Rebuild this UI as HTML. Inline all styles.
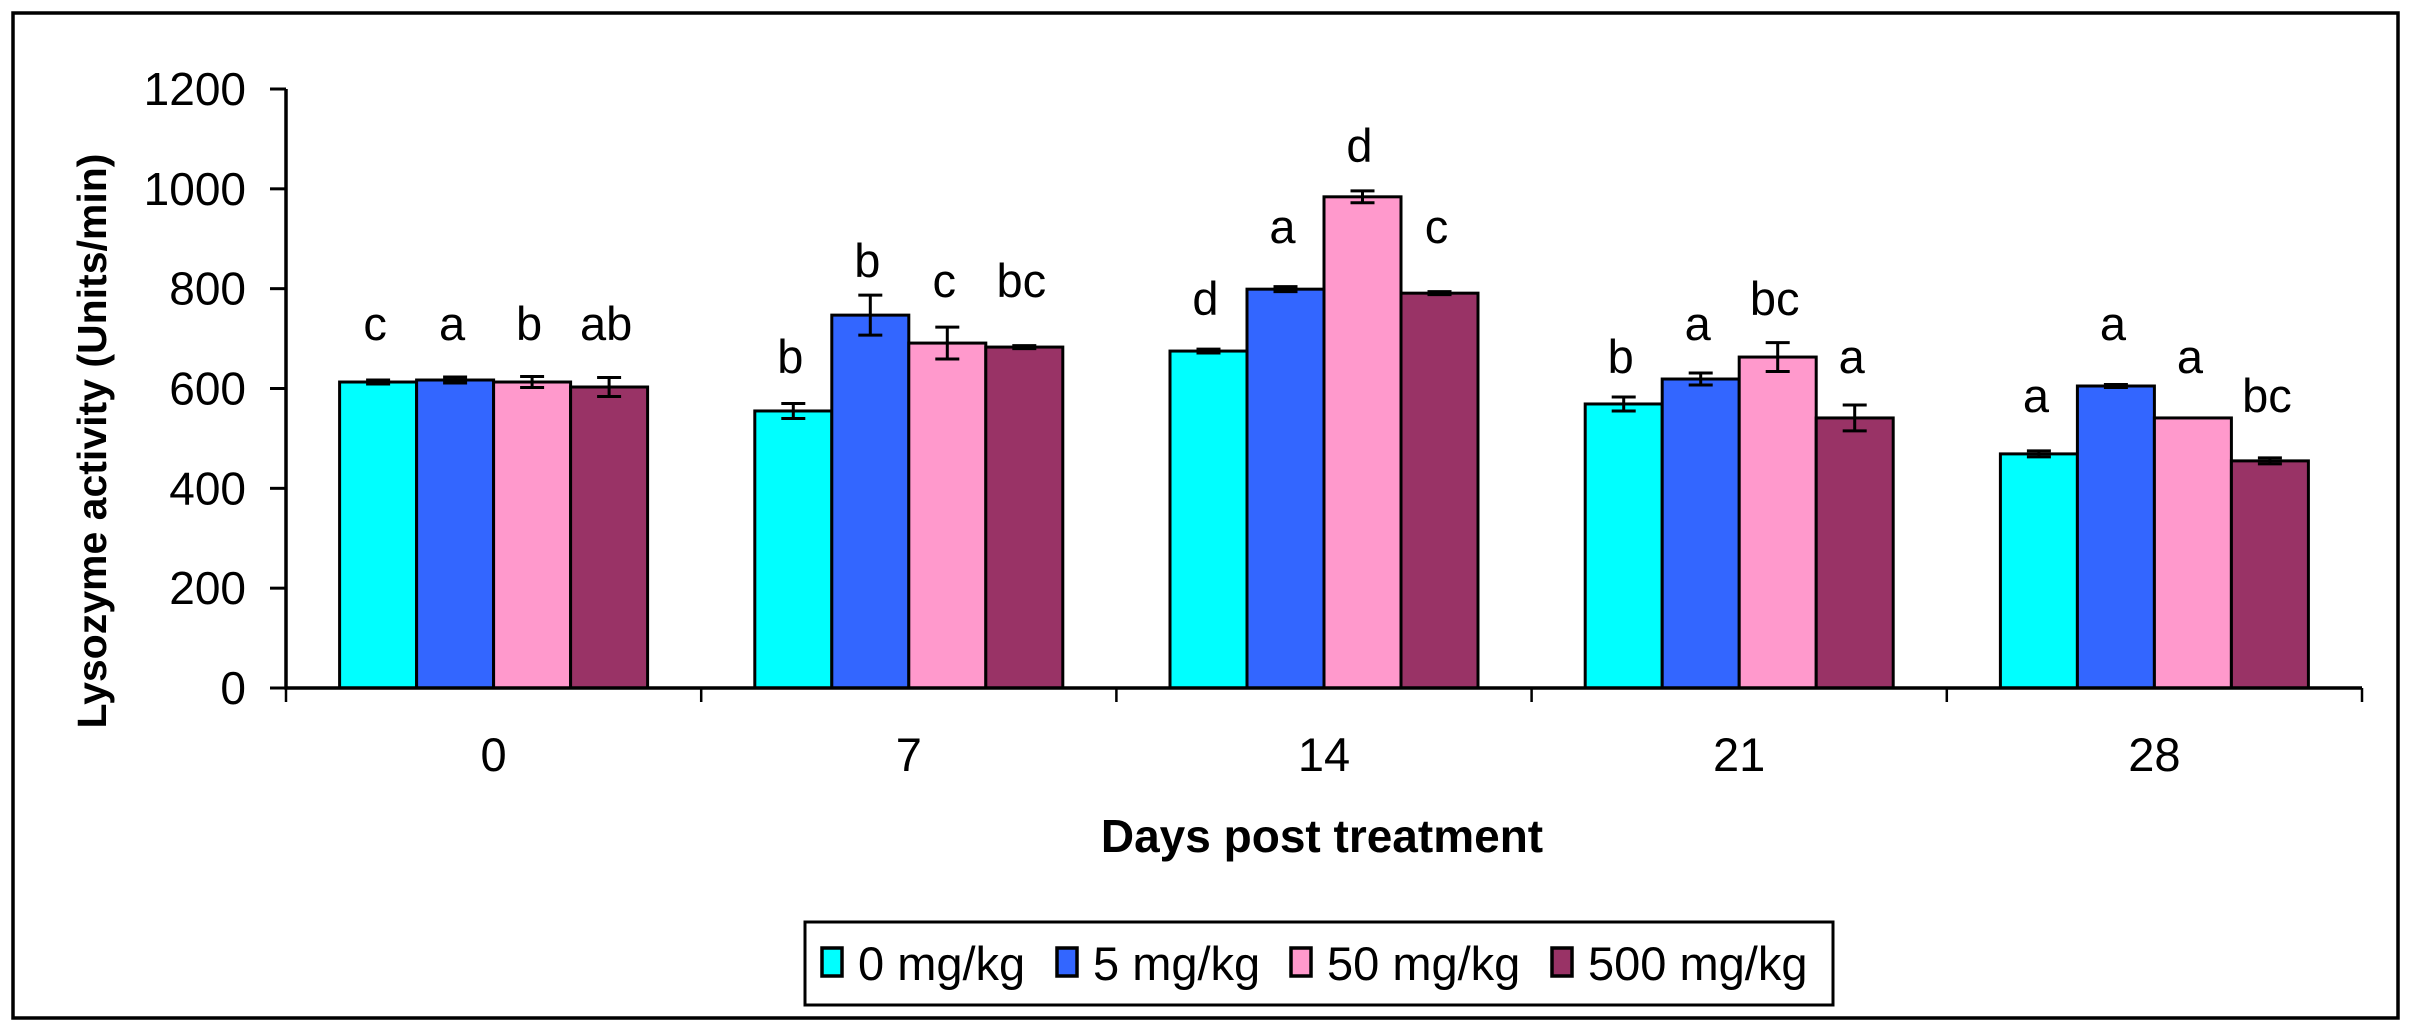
<!DOCTYPE html>
<html><head><meta charset="utf-8"><style>
html,body{margin:0;padding:0;background:#fff}
svg{display:block}
text{font-family:"Liberation Sans",Arial,sans-serif;fill:#000}
</style></head><body>
<svg id="chart" width="2411" height="1032" viewBox="0 0 2411 1032">
<rect x="13" y="13" width="2385" height="1005" fill="#fff" stroke="#000" stroke-width="3.5"/>
<g id="plot"></g>
<text x="95" y="441" font-size="41" font-weight="bold" text-anchor="middle" transform="rotate(-90 95 441)" dominant-baseline="middle">Lysozyme activity (Units/min)</text>
<text x="1322" y="852" font-size="46" font-weight="bold" text-anchor="middle">Days post treatment</text>
<g id="legend">
<rect x="805" y="922" width="1028" height="83" fill="#fff" stroke="#000" stroke-width="3"/>
</g>
</svg>
<script>
const categories = ["0","7","14","21","28"];
const seriesNames = ["0 mg/kg","5 mg/kg","50 mg/kg","500 mg/kg"];
const seriesColors = ["#00ffff","#3366ff","#ff99cc","#993366"];
const s0 = [613, 555, 675, 569, 469];
const s1 = [617, 747, 799, 619, 605];
const s2 = [613, 691, 984, 663, 541];
const s3 = [603, 683, 791, 541, 455];
const e0 = [4, 15, 4, 14, 6];
const e1 = [6, 40, 5, 12, 3];
const e2 = [11, 32, 12, 29, 0];
const e3 = [19, 3, 3, 26, 6];
const l0 = ["c","b","d","b","a"];
const l1 = ["a","b","a","a","a"];
const l2 = ["b","c","d","bc","a"];
const l3 = ["ab","bc","c","a","bc"];
const ly0 = [697, 631, 747, 631, 553];
const ly1 = [697, 823, 891, 697, 697];
const ly2 = [697, 783, 1054, 747, 631];
const ly3 = [697, 783, 891, 631, 553];
const yTicks = [0, 200, 400, 600, 800, 1000, 1200];

const values = [s0,s1,s2,s3], errs=[e0,e1,e2,e3], labels=[l0,l1,l2,l3], labelY=[ly0,ly1,ly2,ly3];
const NS="http://www.w3.org/2000/svg";
const X0=286, X1=2362, Y0=688, YMAX=1200, PXPU=(688-89)/1200;
const gw=(X1-X0)/categories.length, bw=77;
function y(v){return Y0 - v*PXPU;}
function barX(g,s){return X0 + g*gw + (gw-4*bw)/2 + s*bw;}
function el(tag,attrs,parent){const e=document.createElementNS(NS,tag);for(const k in attrs)e.setAttribute(k,attrs[k]);parent.appendChild(e);return e;}
const plot=document.getElementById('plot');

for(let g=0;g<categories.length;g++){
  for(let s=0;s<4;s++){
    const v=values[s][g], x=barX(g,s);
    const r=el('rect',{x:x,y:y(v),width:bw,height:Y0-y(v),fill:seriesColors[s],stroke:'#000','stroke-width':3},plot);
    
    
    const e=errs[s][g], cx=x+bw/2;
    if(e>0){
      const eb=el('path',{d:`M${cx} ${y(v+e)}V${y(v-e)}M${cx-12} ${y(v+e)}H${cx+12}M${cx-12} ${y(v-e)}H${cx+12}`,stroke:'#000','stroke-width':3,fill:'none'},plot);
      
      
    }
    const t=el('text',{x:cx-3,y:y(labelY[s][g]),'font-size':47,'text-anchor':'middle'},plot);
    t.textContent=labels[s][g];
    
    
  }
  const lab=el('text',{x:X0+g*gw+gw/2,y:771,'font-size':47,'text-anchor':'middle'},plot);
  lab.textContent=categories[g];
  
  
}
const ax=el('path',{d:`M${X0} ${y(YMAX)}V${Y0}H${X1}`,stroke:'#000','stroke-width':3.5,fill:'none'},plot);


for(let g=0;g<=categories.length;g++){
  const xt=X0+g*gw;
  const tk=el('line',{x1:xt,x2:xt,y1:Y0,y2:Y0+14,stroke:'#000','stroke-width':2.5},plot);
  
  
}
yTicks.forEach(v=>{
  const tk=el('line',{x1:X0-16,x2:X0,y1:y(v),y2:y(v),stroke:'#000','stroke-width':3},plot);
  
  
  const t=el('text',{x:246,y:y(v)+16,'font-size':46,'text-anchor':'end'},plot);
  t.textContent=v;
  
  
});
const legend=document.getElementById('legend');
const lx=[822,1057,1291,1552];
seriesNames.forEach((n,i)=>{
  const sw=el('rect',{x:lx[i],y:948,width:20,height:28,fill:seriesColors[i],stroke:'#000','stroke-width':3.5},legend);
  
  
  const t=el('text',{x:lx[i]+36,y:980,'font-size':47},legend);
  t.textContent=n;
  
  
});
</script>
</body></html>
